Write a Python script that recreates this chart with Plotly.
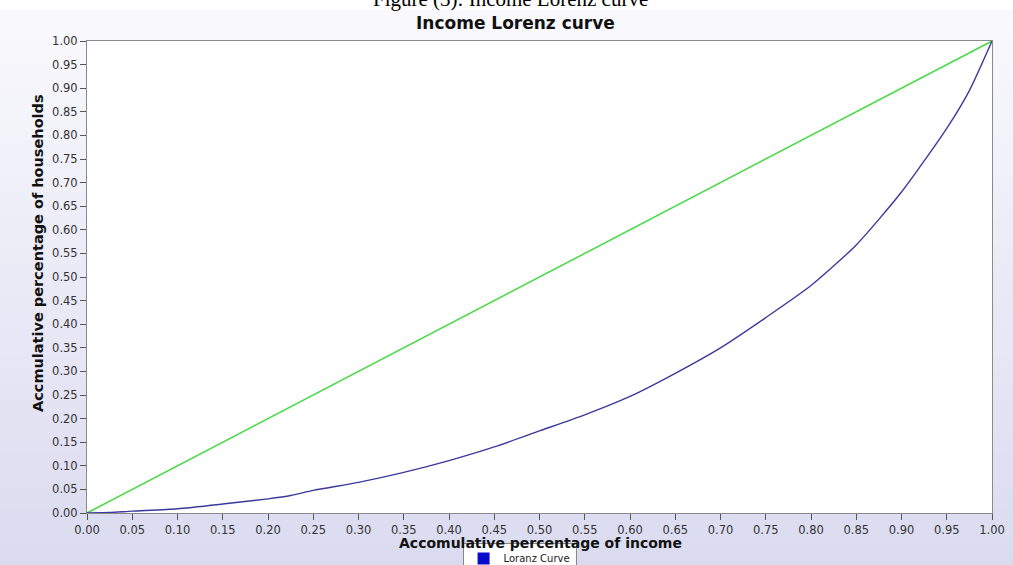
import plotly.graph_objects as go

# Data
income_share = [0.00, 0.025, 0.05, 0.10, 0.15, 0.20, 0.225, 0.25, 0.30, 0.35, 0.40, 0.45,
                0.50, 0.55, 0.60, 0.65, 0.70, 0.75, 0.80, 0.85, 0.90, 0.95, 0.975, 1.00]
household_share = [0.000, 0.001, 0.004, 0.009, 0.019, 0.030, 0.037, 0.048, 0.065, 0.086, 0.111, 0.140,
                   0.174, 0.208, 0.247, 0.296, 0.350, 0.414, 0.482, 0.568, 0.680, 0.815, 0.895, 1.000]
equality_x = [0.0, 1.0]
equality_y = [0.0, 1.0]
tick_vals = [round(i * 0.05, 2) for i in range(21)]
tick_text = [f"{v:.2f}" for v in tick_vals]

W, H = 1013, 565
L, R, T, B = 87, 21, 41, 52
ph = H - T - B
pw = W - L - R

def py(p):  # pixel y -> paper y
    return (H - B - p) / ph

def px(p):  # pixel x -> paper x
    return (p - L) / pw

fig = go.Figure()

fig.add_trace(go.Scatter(x=equality_x, y=equality_y, mode="lines",
                         line=dict(color="#4cd94c", width=1.6), showlegend=False,
                         hoverinfo="skip"))
fig.add_trace(go.Scatter(x=income_share, y=household_share, mode="lines",
                         line=dict(color="#3a3a9c", width=1.4, shape="spline", smoothing=0.6),
                         showlegend=False, name="Loranz Curve"))
# legend entry (square swatch)
fig.add_trace(go.Scatter(x=[None], y=[None], mode="markers", name="Loranz Curve",
                         marker=dict(symbol="square", size=10, color="#0a0acc"),
                         showlegend=True))

# background gradient bands
shapes = []
top_white = 10
n = 40
c0 = (249, 249, 253)
c1 = (219, 219, 240)
for i in range(n):
    p0 = top_white + (H - top_white) * i / n
    p1 = top_white + (H - top_white) * (i + 1) / n + 1
    t = i / (n - 1)
    col = tuple(round(c0[k] + (c1[k] - c0[k]) * t) for k in range(3))
    shapes.append(dict(type="rect", xref="paper", yref="paper", x0=px(0), x1=px(W),
                       y0=py(p1), y1=py(p0), fillcolor=f"rgb{col}", line=dict(width=0),
                       layer="below"))
shapes.append(dict(type="rect", xref="paper", yref="paper", x0=px(0), x1=px(W),
                   y0=py(top_white), y1=py(0), fillcolor="white", line=dict(width=0),
                   layer="below"))
shapes.append(dict(type="rect", xref="paper", yref="paper", x0=0, x1=1, y0=0, y1=1,
                   fillcolor="white", line=dict(width=0), layer="below"))

axis_common = dict(range=[0, 1], tickmode="array", tickvals=tick_vals, ticktext=tick_text,
                   ticks="outside", ticklen=6, tickcolor="#555", tickwidth=1,
                   showline=True, linecolor="#8a8a8a", linewidth=1, mirror=True,
                   showgrid=False, zeroline=False, automargin=False,
                   tickfont=dict(family="DejaVu Sans", size=11.5, color="#333"))

title_font = dict(family="DejaVu Sans", size=14.5, color="#111")

fig.update_layout(
    width=W, height=H,
    margin=dict(l=L, r=R, t=T, b=B, autoexpand=False),
    paper_bgcolor="white", plot_bgcolor="white",
    shapes=shapes,
    xaxis=dict(**axis_common),
    yaxis=dict(**axis_common),
    legend=dict(orientation="h", x=0.478, xanchor="center", y=py(543), yanchor="top",
                bgcolor="white", bordercolor="#888", borderwidth=1,
                font=dict(family="DejaVu Sans", size=10, color="#222"),
                itemsizing="constant", tracegroupgap=0, itemwidth=30),
    annotations=[
        dict(text="<b>Income Lorenz curve</b>", xref="paper", yref="paper",
             x=px(515), y=py(23), xanchor="center", yanchor="middle", showarrow=False,
             font=dict(family="DejaVu Sans", size=17, color="#111")),
        dict(text="Figure (3): Income Lorenz curve", xref="paper", yref="paper",
             x=px(510), y=py(-1), xanchor="center", yanchor="middle", showarrow=False,
             font=dict(family="Liberation Serif", size=21, color="#000")),
        dict(text="<b>Accomulative percentage of income</b>", xref="paper", yref="paper",
             x=px(540), y=py(542.5), xanchor="center", yanchor="middle", showarrow=False,
             font=dict(family="DejaVu Sans", size=14, color="#111")),
        dict(text="<b>Accmulative percentage of households</b>", xref="paper", yref="paper",
             x=px(38), y=py(253), xanchor="center", yanchor="middle", showarrow=False,
             textangle=-90, font=title_font),
    ],
)

fig.write_html("out.html", post_script="document.body.style.margin='0';",
               config={"displayModeBar": False})
